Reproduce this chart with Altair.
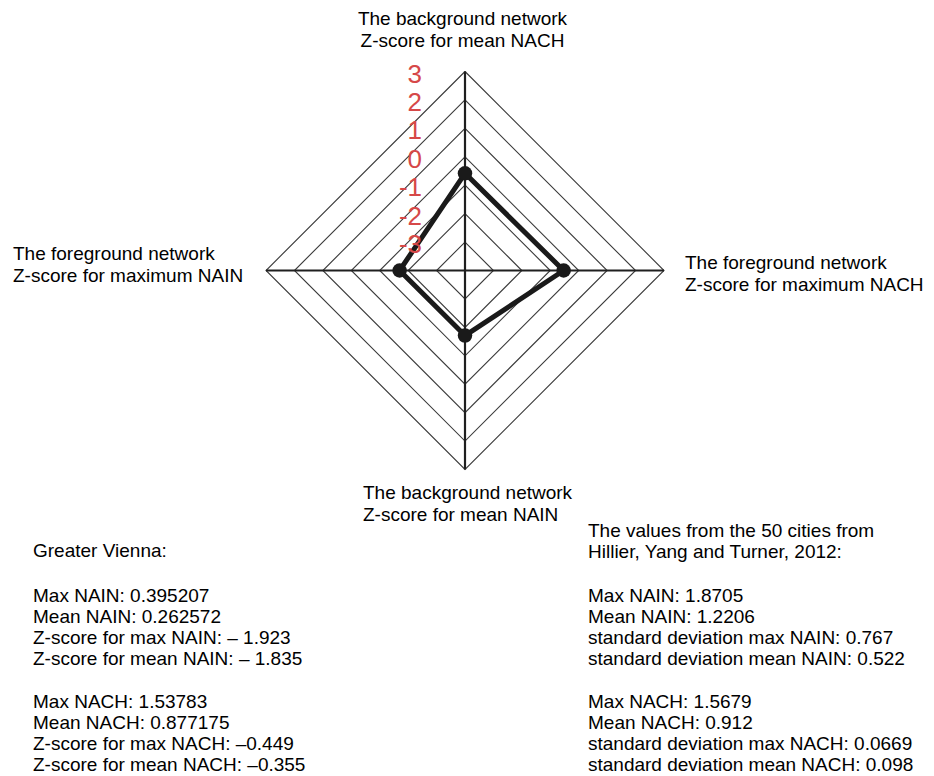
import altair as alt
import pandas as pd
import numpy as np

# ---------------- data ----------------
axis_keys = ["mean_nach_bg", "max_nach_fg", "mean_nain_bg", "max_nain_fg"]
axis_angle_deg = [90, 0, 270, 180]          # top, right, bottom, left
z_values = [-0.58, -0.53, -1.71, -1.70]      # plotted values
ring_levels = [-3, -2, -1, 0, 1, 2, 3]
ring_labels = ["-3", "-2", "-1", "0", "1", "2", "3"]
scale_min, scale_max = -4, 3

title_top = ["The background network", "Z-score for mean NACH"]
title_right = ["The foreground network", "Z-score for maximum NACH"]
title_bottom = ["The background network", "Z-score for mean NAIN"]
title_left = ["The foreground network", "Z-score for maximum NAIN"]

left_head = ["Greater Vienna:"]
left_nain = ["Max NAIN: 0.395207", "Mean NAIN: 0.262572",
             "Z-score for max NAIN: \u2013 1.923", "Z-score for mean NAIN: \u2013 1.835"]
left_nach = ["Max NACH: 1.53783", "Mean NACH: 0.877175",
             "Z-score for max NACH: \u20130.449", "Z-score for mean NACH: \u20130.355"]
right_head = ["The values from the 50 cities from", "Hillier, Yang and Turner, 2012:"]
right_nain = ["Max NAIN: 1.8705", "Mean NAIN: 1.2206",
              "standard deviation max NAIN: 0.767", "standard deviation mean NAIN: 0.522"]
right_nach = ["Max NACH: 1.5679", "Mean NACH: 0.912",
              "standard deviation max NACH: 0.0669", "standard deviation mean NACH: 0.098"]

# ---------------- geometry helpers ----------------
def radius(z):
    return (z - scale_min) / (scale_max - scale_min)

def polar(r, deg):
    a = np.deg2rad(deg)
    return r * np.cos(a), r * np.sin(a)

ring_rows = []
for lv in ring_levels:
    r = radius(lv)
    for i, ang in enumerate(axis_angle_deg + [axis_angle_deg[0]]):
        x, y = polar(r, ang)
        ring_rows.append({"ring": lv, "o": i, "x": x, "y": y})
rings = pd.DataFrame(ring_rows)

spoke_rows = []
for name, angs in [("v", [90, 270]), ("h", [0, 180])]:
    for i, ang in enumerate(angs):
        x, y = polar(radius(scale_max), ang)
        spoke_rows.append({"spoke": name, "o": i, "x": x, "y": y})
spokes = pd.DataFrame(spoke_rows)

poly_rows = []
for i, (k, ang, z) in enumerate(zip(axis_keys + [axis_keys[0]],
                                    axis_angle_deg + [axis_angle_deg[0]],
                                    z_values + [z_values[0]])):
    x, y = polar(radius(z), ang)
    poly_rows.append({"axis": k, "o": i, "z": z, "x": x, "y": y})
poly = pd.DataFrame(poly_rows)
pts = poly.iloc[:-1]

lab = pd.DataFrame({"label": ring_labels,
                    "x": [0.0] * len(ring_levels),
                    "y": [radius(v) for v in ring_levels]})

# ---------------- scales (unit radius = 199 px) ----------------
W, H = 918, 768
R = 199.0
cx, cy = 457.0, 262.5
xdom = [-cx / R, (W - cx) / R]
ydom = [-(H - cy) / R, cy / R]
X = lambda: alt.X("x:Q", scale=alt.Scale(domain=xdom, nice=False, zero=False), axis=None)
Y = lambda: alt.Y("y:Q", scale=alt.Scale(domain=ydom, nice=False, zero=False), axis=None)

FONT = "Liberation Sans"

ring_layer = alt.Chart(rings).mark_line(color="#3a3a3a", strokeWidth=1.1).encode(
    x=X(), y=Y(), detail="ring:N", order="o:Q")
spoke_layer = alt.Chart(spokes).mark_line(color="#1f1f1f", strokeWidth=2.2).encode(
    x=X(), y=Y(), detail="spoke:N", order="o:Q")
poly_layer = alt.Chart(poly).mark_line(color="#1a1a1a", strokeWidth=5,
                                       strokeJoin="round").encode(
    x=X(), y=Y(), order="o:Q")
pt_layer = alt.Chart(pts).mark_point(filled=True, color="#1a1a1a", size=210,
                                     opacity=1).encode(x=X(), y=Y())
lab_layer = alt.Chart(lab).mark_text(align="right", baseline="middle", dx=-43, dy=3,
                                     fontSize=26, font=FONT, color="#d64848").encode(
    x=X(), y=Y(), text="label:N")

one = pd.DataFrame({"a": [0]})

def text_block(lines, px, py, align="left", lh=22):
    return alt.Chart(one).mark_text(align=align, baseline="alphabetic", fontSize=19,
                                    font=FONT, color="#000000", lineHeight=lh).encode(
        x=alt.value(px), y=alt.value(py), text=alt.value(lines))

texts = [
    text_block(title_top, 454.5, 17, align="center"),
    text_block(title_right, 677, 261),
    text_block(title_bottom, 355, 491),
    text_block(title_left, 5, 252),
    text_block(left_head, 25, 549),
    text_block(left_nain, 25, 594, lh=21),
    text_block(left_nach, 25, 700, lh=21),
    text_block(right_head, 580, 529, lh=21),
    text_block(right_nain, 580, 594, lh=21),
    text_block(right_nach, 580, 700, lh=21),
]

chart = alt.layer(ring_layer, spoke_layer, poly_layer, pt_layer, lab_layer, *texts).properties(
    width=W, height=H, autosize=alt.AutoSizeParams(type="none"), padding=0,
    background="white",
).configure_view(stroke=None)

chart.save("out.html", embed_options={"renderer": "svg", "actions": False})
